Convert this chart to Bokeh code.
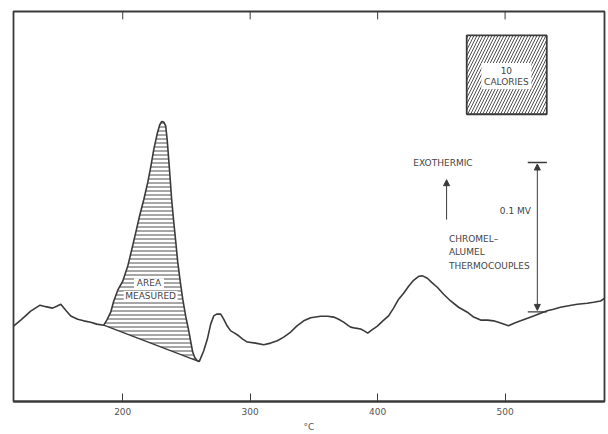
from bokeh.plotting import figure
from bokeh.models import Range1d, FixedTicker, Arrow, NormalHead, Label
from bokeh.embed import file_html
from bokeh.resources import INLINE

# ---- data (temperature in deg C, DTA deflection in microvolts) ----
temp_c = [114.3, 120.0, 127.8, 135.1, 139.6, 144.9, 148.2, 151.4, 155.3, 159.2, 164.7, 169.4, 174.9, 179.6,
          185.1, 187.5, 190.6, 192.9, 196.1, 200.0, 203.9, 207.1, 210.2, 213.3, 216.5, 219.6, 222.0, 224.3,
          227.2, 229.0, 230.6, 232.2, 233.7, 234.9, 236.1, 237.3, 238.4, 240.0, 241.6, 243.1, 245.1, 247.1,
          249.4, 252.0, 253.7, 254.9, 256.5, 258.4, 260.0,
          263.5, 266.4, 269.0, 271.4, 273.7, 276.9, 279.2, 281.6, 284.7, 287.8, 291.0, 294.1, 297.8, 304.3,
          310.6, 316.1, 321.3, 326.3, 331.8, 336.5, 342.0, 347.5, 355.3, 360.8, 365.5, 369.4, 373.3, 376.5,
          378.8, 382.7, 386.7, 389.8, 392.2, 395.3, 399.8, 403.9, 408.6, 412.5, 416.5, 420.4, 424.3, 428.2,
          432.2, 435.3, 439.0, 442.4, 446.8, 451.8, 457.3, 463.5, 470.4, 475.3, 480.8, 486.3, 491.0, 496.5,
          502.7, 507.5, 512.2, 517.6, 522.4, 527.8, 533.1, 538.0, 543.5, 549.8, 556.6, 564.5, 569.4, 574.9,
          578.0]
dta_uv = [50.5, 54.5, 60.5, 64.5, 63.5, 62.5, 63.8, 65.1, 61.1, 57.3, 55.1, 54.0, 53.1, 51.8,
          51.1, 54.5, 59.8, 67.1, 74.5, 80.5, 90.5, 101.8, 113.1, 124.5, 135.1, 146.5, 157.1, 168.5,
          179.8, 185.1, 187.5, 187.1, 184.5, 175.1, 161.8, 148.5, 135.1, 120.5, 107.1, 93.8, 80.5, 68.5,
          57.1, 46.5, 38.5, 33.1, 29.5, 27.5, 26.7,
          33.8, 41.8, 51.8, 57.3, 58.5, 58.5, 55.1, 51.1, 47.3, 45.8, 44.0, 41.8, 39.8, 39.1,
          38.0, 39.1, 40.7, 43.1, 46.5, 50.5, 54.0, 56.1, 57.1, 57.1, 56.5, 55.1, 53.1, 51.1,
          49.8, 49.1, 48.5, 47.1, 45.8, 47.8, 50.5, 53.8, 57.3, 62.5, 68.5, 72.5, 77.1, 81.1,
          83.8, 84.1, 82.5, 79.8, 76.5, 71.8, 67.3, 63.1, 59.8, 56.5, 54.5, 54.5, 54.0, 52.5,
          50.7, 52.5, 54.0, 55.8, 57.3, 59.1, 60.7, 61.8, 63.1, 64.1, 65.1, 65.8, 66.5, 67.3,
          69.1]

x_ticks = [200, 300, 400, 500]
x_tick_labels = ["200", "300", "400", "500"]

area_from_c = 185.1     # start of the measured peak area
area_to_c = 260.0       # end of the measured peak area

scale_bar_c = 525.3     # 0.1 mV scale bar position
scale_bar_uv = [60.0, 160.0]
exo_arrow_c = 454.1
exo_arrow_uv = [121.8, 148.5]
cal_box = dict(left=469.9, right=532.7, bottom=192.3, top=245.1)   # "10 calories" area

Y_TOP = 261.1
INK = "#3a3a3a"
TXT = "#444444"
FONT = "DejaVu Sans"

p = figure(width=608, height=434, output_backend="svg", toolbar_location=None,
           x_range=Range1d(114.3, 578.0), y_range=Range1d(0, Y_TOP),
           y_axis_location=None, min_border_left=13, min_border_right=4, min_border_top=11,
           background_fill_color="white", border_fill_color="white")
p.grid.visible = False
p.outline_line_color = INK
p.outline_line_width = 1.8

# bottom axis
ax = p.xaxis[0]
ax.ticker = FixedTicker(ticks=x_ticks)
ax.major_label_overrides = {t: l for t, l in zip(x_ticks, x_tick_labels)}
ax.major_tick_in = 8
ax.major_tick_out = 0
ax.minor_tick_line_color = None
ax.major_tick_line_color = INK
ax.axis_line_color = INK
ax.axis_line_width = 1.8
ax.major_label_text_font = FONT
ax.major_label_text_font_size = "9px"
ax.major_label_text_color = "#555555"
ax.major_label_standoff = 6
ax.axis_label = "°C"
ax.axis_label_text_font = FONT
ax.axis_label_text_font_size = "9px"
ax.axis_label_text_font_style = "normal"
ax.axis_label_text_color = "#555555"
ax.axis_label_standoff = 4

# top edge tick marks (same positions as the bottom ticks)
p.segment(x0=x_ticks, x1=x_ticks, y0=[Y_TOP] * len(x_ticks), y1=[Y_TOP - 5.3] * len(x_ticks),
          line_color=INK, line_width=1)

# measured area (horizontal hatch between curve and straight baseline)
area_x = [t for t in temp_c if area_from_c <= t <= area_to_c]
area_y = [v for t, v in zip(temp_c, dta_uv) if area_from_c <= t <= area_to_c]
p.patch(area_x, area_y, fill_color=None, line_color=None,
        hatch_pattern="horizontal_line", hatch_scale=4, hatch_weight=0.9, hatch_color=INK)
p.line([area_x[0], area_x[-1]], [area_y[0], area_y[-1]], line_color=INK, line_width=1.4)

# white patches behind the "AREA MEASURED" lettering
p.rect(x=[220.6, 221.9], y=[79.1, 70.7], width=[30, 54], height=[10, 10],
       width_units="screen", height_units="screen", fill_color="white", line_color=None)

# DTA curve
p.line(temp_c, dta_uv, line_color=INK, line_width=1.6)

# 10 calories box
p.quad(left=[cal_box["left"]], right=[cal_box["right"]], bottom=[cal_box["bottom"]], top=[cal_box["top"]],
       fill_color="white", line_color=INK, line_width=1.8,
       hatch_pattern="right_diagonal_line", hatch_scale=6, hatch_weight=0.9, hatch_color=INK)
p.rect(x=[501.0], y=[218.0], width=[50], height=[26], width_units="screen", height_units="screen",
       fill_color="white", line_color=None)

# scale bar 0.1 mV
p.segment(x0=[scale_bar_c - 7.5] * 2, x1=[scale_bar_c + 7.5] * 2, y0=scale_bar_uv, y1=scale_bar_uv,
          line_color=INK, line_width=1.3)
p.add_layout(Arrow(x_start=scale_bar_c, y_start=scale_bar_uv[0] + 1, x_end=scale_bar_c, y_end=scale_bar_uv[1] - 1,
                   line_color=INK, line_width=1,
                   start=NormalHead(size=6, fill_color=INK, line_color=INK),
                   end=NormalHead(size=6, fill_color=INK, line_color=INK)))

# exothermic arrow
p.add_layout(Arrow(x_start=exo_arrow_c, y_start=exo_arrow_uv[0], x_end=exo_arrow_c, y_end=exo_arrow_uv[1],
                   line_color=INK, line_width=1,
                   end=NormalHead(size=6, fill_color=INK, line_color=INK)))


def lab(x, y, t, align="left", size="9px"):
    p.add_layout(Label(x=x, y=y, text=t, text_font=FONT, text_font_size=size, text_color=TXT,
                       text_align=align, text_baseline="middle"))


lab(428.0, 160.0, "EXOTHERMIC")
lab(495.9, 127.3, "0.1 MV")
lab(455.9, 108.5, "CHROMEL–")
lab(455.9, 99.8, "ALUMEL")
lab(455.9, 90.7, "THERMOCOUPLES")
lab(501.0, 221.8, "10", align="center")
lab(501.0, 214.0, "CALORIES", align="center")
lab(220.6, 79.1, "AREA", align="center")
lab(221.9, 70.7, "MEASURED", align="center")

open("out.html", "w").write(file_html(p, INLINE))
